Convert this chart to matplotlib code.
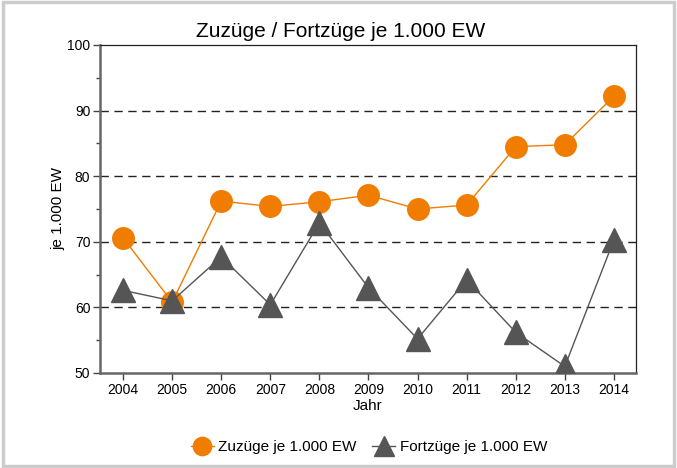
import numpy as np
import matplotlib as mpl
import matplotlib.pyplot as plt
from matplotlib.patches import Rectangle
from matplotlib.ticker import MultipleLocator

mpl.rcParams.update({
    'font.family': 'sans-serif', 'font.sans-serif': ['Liberation Sans', 'DejaVu Sans'],
    'xtick.labelsize': 10, 'ytick.labelsize': 10,
})

years = [2004, 2005, 2006, 2007, 2008, 2009, 2010, 2011, 2012, 2013, 2014]
zuzuege = [70.6, 60.8, 76.2, 75.4, 76.1, 77.1, 75.0, 75.6, 84.5, 84.8, 92.2]
fortzuege = [62.6, 61.0, 67.7, 60.4, 72.9, 63.0, 55.2, 64.2, 56.2, 51.0, 70.3]

ORANGE = '#f07c00'
GRAY = '#555555'

fig = plt.figure(figsize=(6.77, 4.68), dpi=100)
fig.patches.append(Rectangle((0.004, 0.004), 0.992, 0.992, transform=fig.transFigure,
                             fill=False, edgecolor='#cccccc', linewidth=2.5))
ax = fig.add_axes([100/677, 1-373/468, 536/677, 328/468])

ax.plot(years, zuzuege, color=ORANGE, lw=1.0, marker='o', ms=15.5,
        markeredgecolor=ORANGE, label='Zuzüge je 1.000 EW', zorder=3)
ax.plot(years, fortzuege, color=GRAY, lw=1.0, marker='^', ms=17,
        markeredgecolor=GRAY, label='Fortzüge je 1.000 EW', zorder=4)

ax.set_xlim(2003.53, 2014.45)
ax.set_ylim(50, 100)
ax.set_xticks(years)
ax.yaxis.set_major_locator(MultipleLocator(10))
ax.yaxis.set_minor_locator(MultipleLocator(5))
for y in [60, 70, 80, 90]:
    ax.axhline(y, color='#222222', lw=1.0, ls=(0, (6, 4)), zorder=1)

for s in ['left', 'bottom']:
    ax.spines[s].set_color('#666666')
    ax.spines[s].set_linewidth(1.8)
for s in ['top', 'right']:
    ax.spines[s].set_color('#222222')
    ax.spines[s].set_linewidth(0.9)
ax.tick_params(axis='both', which='major', length=5, width=1, color='#444444', pad=2)
ax.tick_params(axis='y', which='minor', length=3, width=1, color='#444444')

fig.text(0.503, 1-37/468, 'Zuzüge / Fortzüge je 1.000 EW', fontsize=15,
         ha='center', va='baseline')
ax.set_xlabel('Jahr', fontsize=11, labelpad=2)
ax.set_ylabel('je 1.000 EW', fontsize=11)
ax.yaxis.set_label_coords(-0.065, 0.5)

fig.legend(loc='center', bbox_to_anchor=(0.545, 1-447/468), ncol=2, frameon=False,
           fontsize=11, handlelength=1.5, handletextpad=0.3, columnspacing=1.0,
           markerscale=0.85)

fig.savefig('out.png', dpi=100)
